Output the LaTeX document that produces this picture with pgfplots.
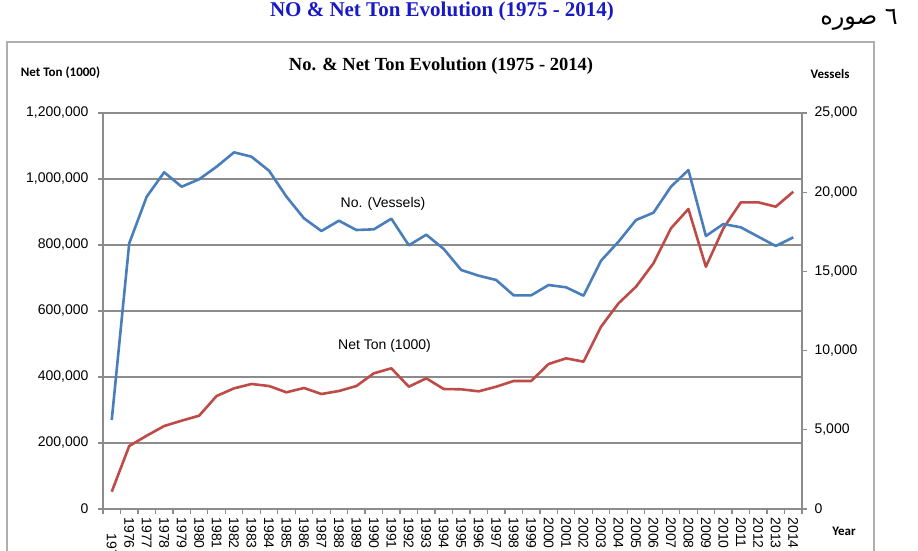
\documentclass[border=0pt]{standalone}
\usepackage{fontspec}
\usepackage{pgfplots}
\pgfplotsset{compat=1.18}
\setmainfont{Liberation Sans}
\newfontfamily\timesfont{Liberation Serif}
\newfontfamily\calfont{Carlito}
\newfontfamily\arabicfont[Script=Arabic]{DejaVu Sans}
\TeXXeTstate=1
\definecolor{vblue}{RGB}{74,126,187}
\definecolor{nred}{RGB}{190,75,72}
\definecolor{gridc}{RGB}{140,140,140}
\definecolor{framec}{RGB}{175,175,175}
\definecolor{titleblue}{RGB}{25,25,200}

\pgfplotstableread{
year vessels
1975 5618
1976 16770
1977 19716
1978 21256
1979 20347
1980 20814
1981 21610
1982 22518
1983 22240
1984 21357
1985 19716
1986 18352
1987 17550
1988 18200
1989 17613
1990 17656
1991 18327
1992 16647
1993 17316
1994 16414
1995 15088
1996 14728
1997 14457
1998 13489
1999 13489
2000 14141
2001 13995
2002 13468
2003 15676
2004 16875
2005 18245
2006 18706
2007 20347
2008 21400
2009 17234
2010 17992
2011 17782
2012 17190
2013 16603
2014 17150
}\vesselsdata

\pgfplotstableread{
year netton
1975 52400
1976 190900
1977 222100
1978 251500
1979 267600
1980 282700
1981 342400
1982 365700
1983 378800
1984 372700
1985 353600
1986 366700
1987 348500
1988 357600
1989 372700
1990 411200
1991 426400
1992 370600
1993 396000
1994 363600
1995 362700
1996 356600
1997 370600
1998 387900
1999 387900
2000 439400
2001 456600
2002 446400
2003 552400
2004 623300
2005 673600
2006 744500
2007 850600
2008 909100
2009 734200
2010 850600
2011 929400
2012 929400
2013 916100
2014 961500
}\nettondata

\pgfplotsset{
  common/.style={
    scale only axis, width=699pt, height=396pt,
    at={(103pt,41pt)}, anchor=south west,
    xmin=1974.5, xmax=2014.5,
    axis line style={gridc, line width=1.3pt},
    tick style={gridc, line width=1.3pt},
    tick align=outside, major tick length=5pt,
    tick label style={font=\fontsize{14}{16}\selectfont},
    yticklabel style={/pgf/number format/fixed, /pgf/number format/precision=0, /pgf/number format/1000 sep={,}, /pgf/number format/assume math mode=true},
    scaled y ticks=false,
    clip=false,
  }
}

\begin{document}
\begin{tikzpicture}[x=1pt,y=1pt]
\path[use as bounding box] (0,0) rectangle (918,550);
\clip (0,0) rectangle (918,550);
\fill[white] (0,0) rectangle (918,550);
\draw[framec, line width=1.5pt] (7,508) rectangle (874,-20);
\node[font=\timesfont\bfseries\fontsize{21}{24}\selectfont, text=titleblue] at (442,539) {NO \& Net Ton Evolution (1975 - 2014)};
\node[font=\arabicfont\fontsize{24}{28}\selectfont, inner sep=0pt] at (859,530) {\beginR صوره\endR\ ٦};
\node[font=\timesfont\bfseries\fontsize{18.5}{22}\selectfont] at (441,484) {No. \& Net Ton Evolution (1975 - 2014)};
\node[font=\calfont\bfseries\fontsize{13}{15}\selectfont] at (60.5,477) {Net Ton (1000)};
\node[font=\calfont\bfseries\fontsize{13}{15}\selectfont] at (830,476) {Vessels};
\node[font=\calfont\bfseries\fontsize{13}{15}\selectfont] at (844,19) {Year};

\begin{axis}[common,
  ymin=0, ymax=1200000,
  axis x line*=bottom, axis y line*=left,
  ytick={0,200000,400000,600000,800000,1000000,1200000},
  yticklabel style={xshift=-6pt},
  ymajorgrids, grid style={gridc, line width=1.3pt},
  xtick={1974.5,1975.5,...,2014.5},
  x tick label as interval,
  xticklabels={\hspace*{16pt}1975,1976,1977,1978,1979,1980,1981,1982,1983,1984,1985,1986,1987,1988,1989,1990,1991,1992,1993,1994,1995,1996,1997,1998,1999,2000,2001,2002,2003,2004,2005,2006,2007,2008,2009,2010,2011,2012,2013,2014},
  xticklabel style={rotate=-90, anchor=west, xshift=0pt},
]
\addplot[nred, line width=2.6pt, line join=round] table[x=year, y=netton] {\nettondata};
\end{axis}

\begin{axis}[common,
  ymin=0, ymax=25000,
  axis x line=none, axis y line*=right,
  xtick=\empty,
  ytick={0,5000,10000,15000,20000,25000},
  yticklabel style={xshift=4pt},
]
\addplot[vblue, line width=2.6pt, line join=round] table[x=year, y=vessels] {\vesselsdata};
\end{axis}

\node[font=\fontsize{14}{16}\selectfont] at (383,346) {No. (Vessels)};
\node[font=\fontsize{14}{16}\selectfont] at (384.5,204) {Net Ton (1000)};
\end{tikzpicture}
\end{document}
